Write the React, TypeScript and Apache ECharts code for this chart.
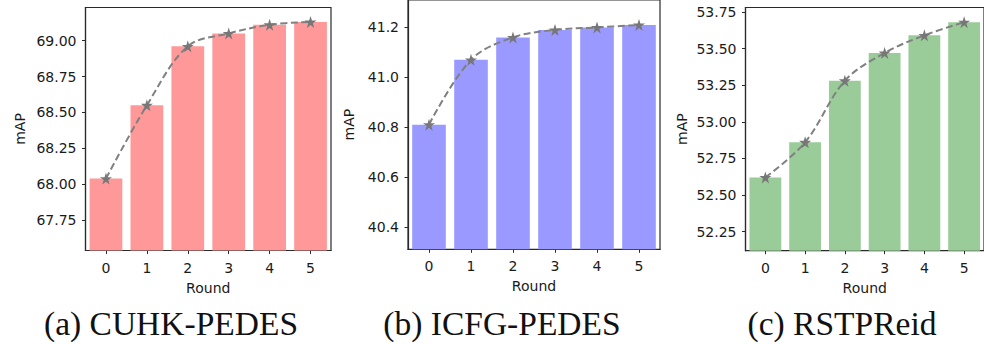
import React, { useEffect, useRef } from "react";
import * as echarts from "echarts";

const rounds = ["0", "1", "2", "3", "4", "5"];
const cuhkMAP = [68.04, 68.55, 68.96, 69.05, 69.11, 69.13];
const icfgMAP = [40.81, 41.07, 41.16, 41.19, 41.2, 41.21];
const rstpMAP = [52.62, 52.86, 53.28, 53.47, 53.59, 53.68];

const cuhkTicks = [67.75, 68.0, 68.25, 68.5, 68.75, 69.0];
const icfgTicks = [40.4, 40.6, 40.8, 41.0, 41.2];
const rstpTicks = [52.25, 52.5, 52.75, 53.0, 53.25, 53.5, 53.75];

const captions = ["(a) CUHK-PEDES", "(b) ICFG-PEDES", "(c) RSTPReid"];

const STAR =
  "path://M50,0 L61.2,34.5 L97.6,34.5 L68.2,55.9 L79.4,90.5 L50,69.1 L20.6,90.5 L31.8,55.9 L2.4,34.5 L38.8,34.5 Z";

export default function App() {
  const ref = useRef<HTMLDivElement>(null);
  useEffect(() => {
    if (!ref.current) return;
    const chart = echarts.init(ref.current, null, { renderer: "svg" });
    const font = "DejaVu Sans";
    const fs = 14;
    const txt = "#1a1a1a";
    const panels = [
      {
        data: cuhkMAP, ticks: cuhkTicks, min: 67.54, max: 69.23, color: "#ff9999",
        grid: { left: 85.5, top: 7.5, width: 245.5, height: 243 }, fmt: 2, nameGap: 59,
      },
      {
        data: icfgMAP, ticks: icfgTicks, min: 40.31, max: 41.31, color: "#9999ff",
        grid: { left: 408, top: -1, width: 252, height: 250.3 }, fmt: 1, nameGap: 52,
      },
      {
        data: rstpMAP, ticks: rstpTicks, min: 52.12, max: 53.78, color: "#99cc99",
        grid: { left: 745.5, top: 7.5, width: 245.5, height: 243.2 }, fmt: 2, nameGap: 57,
      },
    ];
    const grid: any[] = [];
    const xAxis: any[] = [];
    const yAxis: any[] = [];
    const series: any[] = [];
    panels.forEach((p, i) => {
      grid.push({
        ...p.grid,
        show: true,
        borderColor: "#2a2a2a",
        borderWidth: 1.2,
        backgroundColor: "transparent",
        containLabel: false,
      });
      xAxis.push({
        type: "category",
        gridIndex: i,
        data: rounds,
        boundaryGap: true,
        name: "Round",
        nameLocation: "middle",
        nameGap: 30,
        nameTextStyle: { fontFamily: font, fontSize: fs, color: txt },
        axisLine: { show: true, lineStyle: { color: "#2a2a2a", width: 1.2 } },
        axisTick: { show: true, alignWithLabel: true, length: 3.5, lineStyle: { color: "#2a2a2a" } },
        axisLabel: { fontFamily: font, fontSize: fs, color: txt, margin: 10 },
        splitLine: { show: false },
      });
      yAxis.push({
        type: "value",
        gridIndex: i,
        min: p.min,
        max: p.max,
        name: "mAP",
        nameLocation: "middle",
        nameGap: p.nameGap,
        nameRotate: 90,
        nameTextStyle: { fontFamily: font, fontSize: fs, color: txt },
        axisLine: { show: true, lineStyle: { color: "#2a2a2a", width: 1.2 } },
        axisTick: { show: true, length: 3.5, customValues: p.ticks, lineStyle: { color: "#2a2a2a" } },
        axisLabel: {
          fontFamily: font,
          fontSize: fs,
          color: txt,
          margin: 9,
          customValues: p.ticks,
          formatter: (v: number) => v.toFixed(p.fmt),
        },
        splitLine: { show: false },
      });
      series.push({
        type: "bar",
        xAxisIndex: i,
        yAxisIndex: i,
        data: p.data,
        barWidth: "80%",
        itemStyle: { color: p.color },
        silent: true,
      });
      series.push({
        type: "line",
        xAxisIndex: i,
        yAxisIndex: i,
        data: p.data,
        smooth: 0.35,
        symbol: STAR,
        symbolSize: 12,
        showSymbol: true,
        lineStyle: { color: "#808080", width: 2, type: [7, 3.5] },
        itemStyle: { color: "#777777", borderWidth: 0 },
        z: 5,
        silent: true,
      });
    });
    const centers = [171, 502, 842];
    const graphic = captions.map((c, i) => ({
      type: "text",
      x: centers[i],
      y: 323,
      style: {
        text: c,
        align: "center",
        verticalAlign: "middle",
        fontFamily: "Liberation Serif",
        fontSize: 33.5,
        fill: "#111",
      },
    }));
    chart.setOption({
      animation: false,
      backgroundColor: "#ffffff",
      grid,
      xAxis,
      yAxis,
      series,
      graphic,
    });
    return () => chart.dispose();
  }, []);
  return (
    <div
      ref={ref}
      style={{ position: "absolute", left: 0, top: 0, width: 984, height: 344 }}
    />
  );
}
